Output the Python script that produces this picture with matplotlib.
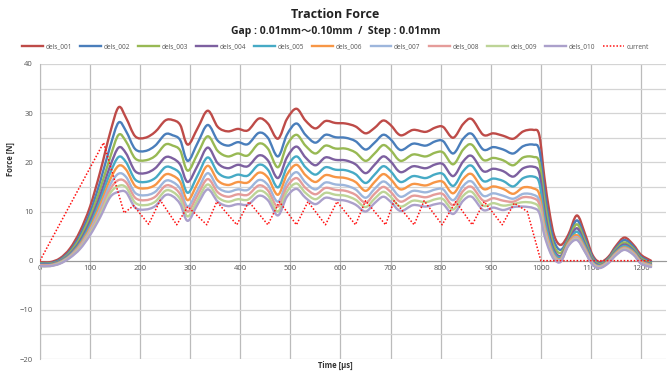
import matplotlib
matplotlib.use("Agg")
import matplotlib.pyplot as plt
from matplotlib.ticker import MultipleLocator
from matplotlib.path import Path
from matplotlib.patches import PathPatch
from matplotlib.lines import Line2D

plt.rcParams['font.family'] = ['Open Sans', 'DejaVu Sans']

# ---------------- data ----------------
time_us = [0, 20, 40, 60, 80, 100, 120, 140, 157, 172, 190, 210, 230, 250, 265, 280, 295, 315, 335, 355,
           375, 395, 415, 437, 455, 475, 493, 512, 530, 550, 570, 590, 610, 630, 650, 668, 685, 700, 720, 745,
           770, 790, 805, 825, 845, 862, 885, 905, 925, 945, 965, 985, 997, 1007, 1017, 1027, 1040, 1055, 1072, 1088,
           1103, 1118, 1135, 1150, 1167, 1185, 1200, 1220]

dels_001 = [-0.3, -0.3, 0.5, 2.5, 6.0, 11.0, 18.0, 26.0, 31.2, 29.0, 25.3, 25.0, 26.2, 28.5, 28.6, 27.6, 23.6, 27.0, 30.5, 27.2,
            26.3, 26.8, 26.5, 28.9, 27.9, 24.8, 28.8, 30.9, 28.5, 26.9, 28.4, 28.0, 27.9, 27.3, 25.9, 27.0, 28.5, 27.6, 25.5, 26.6,
            26.2, 27.1, 27.2, 25.0, 27.8, 28.8, 25.6, 25.9, 25.4, 24.8, 26.3, 26.6, 25.5, 17.0, 10.0, 5.0, 3.2, 5.3, 9.2, 5.5,
            1.2, -0.3, 0.8, 3.0, 4.7, 3.2, 1.2, 0.0]
dels_002 = [-0.5, -0.5, 0.2, 2.0, 5.2, 9.8, 16.0, 23.2, 28.1, 26.3, 22.7, 22.3, 23.4, 25.7, 25.5, 24.5, 20.3, 24.0, 27.6, 24.4,
            23.4, 24.1, 23.7, 26.0, 25.0, 21.2, 25.6, 27.9, 25.6, 24.0, 25.6, 25.1, 25.0, 24.3, 22.6, 24.0, 25.6, 24.7, 22.5, 23.8,
            23.4, 24.3, 24.3, 21.8, 24.8, 25.8, 22.6, 23.1, 22.6, 21.8, 23.3, 23.6, 22.5, 14.5, 8.0, 3.8, 2.2, 4.6, 8.2, 4.6,
            0.8, -0.5, 0.5, 2.6, 4.2, 2.8, 0.8, -0.3]
dels_003 = [-0.6, -0.6, 0.0, 1.7, 4.6, 8.9, 14.5, 21.0, 25.6, 24.2, 20.8, 20.4, 21.3, 23.6, 23.4, 22.4, 18.3, 21.8, 25.3, 22.3,
            21.2, 21.8, 21.4, 23.8, 22.8, 19.0, 23.5, 25.6, 23.4, 21.8, 23.4, 22.8, 22.8, 22.0, 20.3, 21.8, 23.5, 22.5, 20.3, 21.6,
            21.2, 22.0, 22.0, 19.6, 22.6, 23.6, 20.5, 20.9, 20.4, 19.4, 21.0, 21.1, 20.0, 12.5, 6.5, 2.8, 1.6, 4.2, 7.4, 4.0,
            0.4, -0.7, 0.3, 2.3, 3.7, 2.4, 0.5, -0.5]
dels_004 = [-0.7, -0.7, -0.1, 1.4, 4.0, 8.0, 13.2, 19.2, 23.0, 21.8, 18.2, 17.8, 18.8, 21.0, 20.8, 19.5, 16.0, 19.4, 23.0, 19.8,
            18.8, 19.5, 19.2, 21.4, 20.4, 16.8, 21.0, 23.2, 21.0, 19.4, 21.0, 20.5, 20.4, 19.6, 17.8, 19.5, 21.2, 20.2, 18.0, 19.2,
            18.8, 19.6, 19.6, 17.2, 20.2, 21.3, 18.2, 18.7, 18.2, 17.1, 18.8, 19.1, 17.8, 10.5, 5.2, 2.0, 1.0, 3.8, 6.6, 3.4,
            0.1, -0.9, 0.1, 2.0, 3.3, 2.1, 0.2, -0.7]
dels_005 = [-0.8, -0.8, -0.2, 1.2, 3.6, 7.3, 12.2, 17.8, 21.1, 20.0, 16.5, 16.0, 16.8, 19.0, 18.8, 17.6, 13.8, 17.4, 21.0, 17.9,
            16.9, 17.5, 17.3, 19.5, 18.5, 14.9, 19.0, 21.2, 19.0, 17.5, 19.0, 18.5, 18.4, 17.6, 15.8, 17.5, 19.2, 18.2, 16.0, 17.2,
            16.8, 17.6, 17.6, 15.2, 18.2, 19.3, 16.2, 16.7, 16.2, 15.1, 16.8, 17.1, 15.8, 9.0, 4.3, 1.5, 0.7, 3.5, 5.9, 3.0,
            -0.2, -1.0, 0.0, 1.8, 3.0, 1.9, 0.0, -0.8]
dels_006 = [-0.9, -0.9, -0.3, 1.0, 3.3, 6.7, 11.3, 16.5, 19.3, 18.5, 15.2, 14.7, 15.4, 17.5, 17.3, 16.0, 12.3, 15.8, 19.3, 16.3,
            15.4, 16.0, 15.9, 17.9, 16.9, 13.4, 17.5, 19.5, 17.4, 16.0, 17.4, 17.0, 16.8, 16.0, 14.2, 16.0, 17.6, 16.6, 14.5, 15.6,
            15.3, 16.0, 16.0, 13.7, 16.6, 17.6, 14.6, 15.1, 14.6, 13.6, 14.9, 14.7, 13.5, 7.5, 3.5, 1.0, 0.4, 3.6, 5.2, 2.6,
            -0.4, -1.1, -0.1, 1.6, 2.7, 1.7, -0.1, -0.9]
dels_007 = [-1.0, -1.0, -0.4, 0.9, 3.0, 6.2, 10.5, 15.4, 17.7, 17.0, 13.8, 13.3, 14.0, 16.2, 16.0, 14.6, 11.0, 14.4, 17.8, 14.9,
            14.0, 14.5, 14.4, 16.4, 15.4, 12.0, 16.0, 18.0, 15.9, 14.5, 15.9, 15.5, 15.3, 14.5, 12.8, 14.6, 16.1, 15.1, 13.0, 14.2,
            13.9, 14.5, 14.5, 12.3, 15.2, 16.1, 13.2, 13.7, 13.2, 12.6, 13.6, 13.4, 12.2, 6.7, 3.0, 0.8, 0.2, 3.3, 4.8, 2.3,
            -0.5, -1.2, -0.2, 1.4, 2.5, 1.5, -0.3, -1.0]
dels_008 = [-1.0, -1.0, -0.5, 0.8, 2.8, 5.8, 9.8, 14.5, 16.4, 15.9, 12.8, 12.3, 13.0, 15.2, 15.0, 13.5, 10.0, 13.4, 16.6, 13.9,
            13.0, 13.5, 13.4, 15.3, 14.3, 11.0, 15.0, 16.8, 14.8, 13.5, 14.8, 14.4, 14.2, 13.4, 11.8, 13.6, 15.0, 14.0, 12.0, 13.2,
            12.9, 13.5, 13.5, 11.3, 14.2, 15.0, 12.2, 12.7, 12.2, 12.0, 12.9, 12.7, 11.5, 6.2, 2.7, 0.6, 0.0, 3.2, 4.6, 2.1,
            -0.6, -1.3, -0.3, 1.3, 2.4, 1.4, -0.4, -1.1]
dels_009 = [-1.1, -1.1, -0.5, 0.7, 2.6, 5.5, 9.3, 13.7, 15.2, 14.9, 11.8, 11.3, 12.0, 14.2, 14.0, 12.5, 9.0, 12.4, 15.5, 12.9,
            12.0, 12.5, 12.4, 14.2, 13.3, 10.0, 14.0, 15.7, 13.8, 12.5, 13.8, 13.4, 13.2, 12.4, 10.9, 12.6, 14.0, 13.0, 11.0, 12.2,
            11.9, 12.5, 12.5, 10.4, 13.2, 14.0, 11.2, 11.7, 11.2, 11.5, 11.9, 11.7, 10.6, 5.7, 2.4, 0.4, -0.1, 3.1, 4.4, 1.9,
            -0.7, -1.4, -0.4, 1.2, 2.3, 1.3, -0.5, -1.2]
dels_010 = [-1.1, -1.1, -0.6, 0.6, 2.4, 5.2, 8.8, 12.9, 14.0, 13.9, 10.8, 10.4, 11.1, 13.3, 13.1, 11.5, 8.1, 11.5, 14.5, 12.0,
            11.1, 11.5, 11.4, 13.2, 12.3, 9.2, 13.0, 14.6, 12.8, 11.5, 12.8, 12.4, 12.2, 11.4, 10.0, 11.7, 13.0, 12.0, 10.1, 11.3,
            11.0, 11.5, 11.5, 9.5, 12.2, 13.0, 10.3, 10.8, 10.3, 10.9, 11.0, 10.7, 9.7, 5.2, 2.1, 0.2, -0.2, 3.0, 4.2, 1.8,
            -0.8, -1.5, -0.5, 1.1, 2.2, 1.2, -0.6, -1.3]

current_time = [0, 127, 168, 187, 217, 240, 273, 295, 333, 353, 393, 417, 455, 478, 512, 535, 570, 593, 630, 650,
                690, 707, 747, 767, 803, 830, 863, 887, 923, 947, 973, 1000, 1220]
current = [0, 24.0, 9.7, 11.2, 7.4, 12.3, 7.3, 11.0, 7.3, 12.0, 7.3, 12.0, 7.3, 12.0, 7.3, 12.0, 7.3, 12.0, 7.3, 12.2,
           7.3, 12.2, 7.3, 12.2, 7.3, 12.0, 7.3, 12.0, 7.3, 11.7, 10.0, 0.0, 0.0]

series_names = ['dels_001', 'dels_002', 'dels_003', 'dels_004', 'dels_005',
                'dels_006', 'dels_007', 'dels_008', 'dels_009', 'dels_010']
series_values = [dels_001, dels_002, dels_003, dels_004, dels_005,
                 dels_006, dels_007, dels_008, dels_009, dels_010]
colors = ['#BE4B48', '#4A7EBB', '#98B954', '#7D60A0', '#46AAC5',
          '#F79646', '#9DB6DC', '#E59C9A', '#BDD497', '#ABA0CB']

x_ticks = [0, 100, 200, 300, 400, 500, 600, 700, 800, 900, 1000, 1100, 1200]
y_ticks = [-20, -10, 0, 10, 20, 30, 40]


def smoothed_path(xs, ys):
    """Excel-style smoothed line: cubic Bezier segments through every data point."""
    verts = [(xs[0], ys[0])]
    codes = [Path.MOVETO]
    n = len(xs)
    for i in range(n - 1):
        x0, y0 = (xs[i - 1], ys[i - 1]) if i > 0 else (xs[i], ys[i])
        x1, y1 = xs[i], ys[i]
        x2, y2 = xs[i + 1], ys[i + 1]
        x3, y3 = (xs[i + 2], ys[i + 2]) if i + 2 < n else (x2, y2)
        c1 = (x1 + (x2 - x0) / 6.0, y1 + (y2 - y0) / 6.0)
        c2 = (x2 - (x3 - x1) / 6.0, y2 - (y3 - y1) / 6.0)
        verts += [c1, c2, (x2, y2)]
        codes += [Path.CURVE4, Path.CURVE4, Path.CURVE4]
    return Path(verts, codes)


# ---------------- figure ----------------
fig = plt.figure(figsize=(6.71, 3.71), dpi=100)
ax = fig.add_axes([0.0596, 0.0323, 0.9330, 0.7952])

handles = []
for name, vals, c in zip(series_names, series_values, colors):
    patch = PathPatch(smoothed_path(time_us, vals), facecolor='none', edgecolor=c, lw=1.7,
                      joinstyle='round', capstyle='round', zorder=3)
    ax.add_patch(patch)
    handles.append(Line2D([], [], color=c, lw=1.7, label=name))
cur_line, = ax.plot(current_time, current, color='#FF1010', lw=1.1, ls=(0, (1, 1.2)),
                    label='current', zorder=4)
handles.append(cur_line)

ax.set_xlim(0, 1250)
ax.set_ylim(-20, 40)
ax.set_xticks(x_ticks)
ax.set_yticks(y_ticks)
ax.yaxis.set_minor_locator(MultipleLocator(5))

ax.grid(axis='y', which='both', color='#D4D4D4', lw=0.9, zorder=0)
ax.grid(axis='x', which='major', color='#BBBBBB', lw=0.9, zorder=0)
ax.set_axisbelow(True)

for s in ['top', 'right']:
    ax.spines[s].set_visible(False)
ax.spines['left'].set_color('#BBBBBB')
ax.spines['bottom'].set_position(('data', 0))
ax.spines['bottom'].set_color('#999999')
ax.spines['bottom'].set_bounds(0, 1250)

ax.tick_params(axis='x', length=0, labelsize=5.5, labelcolor='#555555', pad=3)
ax.tick_params(axis='y', which='both', length=0, labelsize=5.5, labelcolor='#555555', pad=5)

fig.text(0.5, 0.962, 'Traction Force', ha='center', va='center', fontsize=9, fontweight='bold', color='#222222')
fig.text(0.5, 0.915, 'Gap : 0.01mm～0.10mm  /  Step : 0.01mm', ha='center', va='center',
         fontsize=7.5, fontweight='bold', color='#222222',
         family=['Open Sans', 'Noto Sans CJK JP', 'DejaVu Sans'])
fig.text(0.5, 0.015, 'Time [μs]', ha='center', va='center', fontsize=5.5, fontweight='bold', color='#333333')
fig.text(0.016, 0.57, 'Force [N]', ha='center', va='center', rotation=90, fontsize=5.5,
         fontweight='bold', color='#333333')

leg = fig.legend(handles=handles, loc='center', bbox_to_anchor=(0.5, 0.873), ncol=11, frameon=False,
                 fontsize=4.7, handlelength=3.2, handletextpad=0.4, columnspacing=1.25)
for t in leg.get_texts():
    t.set_color('#555555')

fig.savefig('out.png', dpi=100)
